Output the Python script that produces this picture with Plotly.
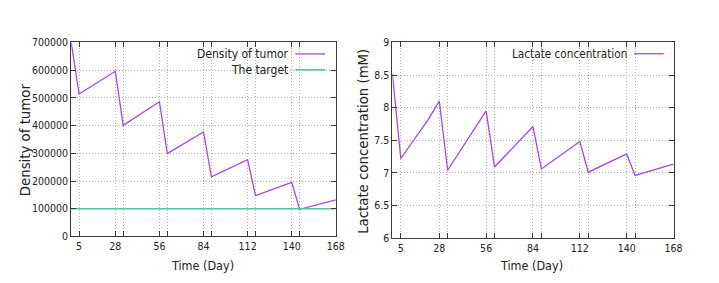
import plotly.graph_objects as go
from plotly.subplots import make_subplots

# ---- data ----
days_tumor = [0, 5, 28, 33, 56, 61, 84, 89, 112, 117, 140, 145, 168]
tumor_density = [700000, 514000, 596000, 401000, 486000, 299000, 377000,
                 215000, 277000, 147000, 195000, 98000, 132000]
target_days = [0, 168]
target_density = [100000, 100000]

days_lactate = [0, 5, 14, 21, 28, 33, 56, 61, 84, 89, 112, 117, 140, 145, 168]
lactate_conc = [8.52, 7.22, 7.55, 7.8, 8.10, 7.04, 7.95, 7.09, 7.71, 7.06,
                7.48, 7.01, 7.29, 6.96, 7.135]

x_tickvals = [5, 28, 33, 56, 61, 84, 89, 112, 117, 140, 145, 168]
x_ticktext = ["5", "28", "", "56", "", "84", "", "112", "", "140", "", "168"]
y1_tickvals = [0, 100000, 200000, 300000, 400000, 500000, 600000, 700000]
y2_tickvals = [6, 6.5, 7, 7.5, 8, 8.5, 9]
y2_ticktext = ["6", "6.5", "7", "7.5", "8", "8.5", "9"]

PURPLE = "#a04ae6"
GREEN = "#4fc79c"
FRAME = "#3a3a3a"
GRID = "#b0b0b0"
FONT = "DejaVu Sans Condensed, Liberation Sans Narrow, DejaVu Sans, sans-serif"

fig = make_subplots(rows=1, cols=2)

fig.add_trace(go.Scatter(x=days_tumor, y=tumor_density, mode="lines",
                         line=dict(color=PURPLE, width=1.3),
                         name="Density of tumor", showlegend=False), row=1, col=1)
fig.add_trace(go.Scatter(x=target_days, y=target_density, mode="lines",
                         line=dict(color=GREEN, width=1.6),
                         name="The target", showlegend=False), row=1, col=1)
fig.add_trace(go.Scatter(x=days_lactate, y=lactate_conc, mode="lines",
                         line=dict(color=PURPLE, width=1.3),
                         name="Lactate concentration", showlegend=False), row=1, col=2)

W, H = 719, 283
def px_x(p):
    return p / W
def px_y(p):
    return 1 - p / H

common_axis = dict(showline=True, linecolor=FRAME, linewidth=1, mirror="ticks",
                   ticks="inside", ticklen=5, tickcolor=FRAME, tickwidth=1,
                   showgrid=True, gridcolor=GRID, griddash="1px,2px", gridwidth=1,
                   zeroline=False, tickfont=dict(family=FONT, size=10.5, color="#222"))

fig.update_xaxes(**common_axis)
fig.update_yaxes(**common_axis)

fig.update_layout(
    xaxis=dict(domain=[px_x(64), px_x(332)], range=[0, 168],
               tickmode="array", tickvals=x_tickvals, ticktext=x_ticktext),
    yaxis=dict(domain=[px_y(232.3), px_y(29.7)], range=[0, 700000],
               tickmode="array", tickvals=y1_tickvals,
               ticktext=[str(v) for v in y1_tickvals]),
    xaxis2=dict(domain=[px_x(389.3), px_x(674)], range=[0, 168],
                tickmode="array", tickvals=x_tickvals, ticktext=x_ticktext),
    yaxis2=dict(domain=[px_y(234), px_y(29.7)], range=[6, 9],
                tickmode="array", tickvals=y2_tickvals, ticktext=y2_ticktext),
    width=W, height=H, margin=dict(l=0, r=0, t=0, b=0),
    paper_bgcolor="white", plot_bgcolor="white",
    font=dict(family=FONT, color="#222"),
)

# key boxes (white background hiding grid) and key samples, gnuplot style
shapes = [
    dict(type="rect", xref="paper", yref="paper", layer="between",
         x0=px_x(180), x1=px_x(331), y0=px_y(66), y1=px_y(30.5),
         fillcolor="white", line=dict(width=0)),
    dict(type="rect", xref="paper", yref="paper", layer="between",
         x0=px_x(516), x1=px_x(673), y0=px_y(50), y1=px_y(30.5),
         fillcolor="white", line=dict(width=0)),
    dict(type="line", xref="paper", yref="paper", x0=px_x(291), x1=px_x(321),
         y0=px_y(41.7), y1=px_y(41.7), line=dict(color=PURPLE, width=1.3)),
    dict(type="line", xref="paper", yref="paper", x0=px_x(291), x1=px_x(321),
         y0=px_y(58.3), y1=px_y(58.3), line=dict(color=GREEN, width=1.6)),
    dict(type="line", xref="paper", yref="paper", x0=px_x(634), x1=px_x(664),
         y0=px_y(41.5), y1=px_y(41.5), line=dict(color=PURPLE, width=1.3)),
]
fig.update_layout(shapes=shapes)

def ann(text, x, y, size, xanchor="center", angle=0):
    return dict(text=text, xref="paper", yref="paper", x=px_x(x), y=px_y(y),
                xanchor=xanchor, yanchor="middle", showarrow=False,
                textangle=angle, font=dict(family=FONT, size=size, color="#222"))

fig.update_layout(annotations=[
    ann("Density of tumor", 286, 42, 12, xanchor="right"),
    ann("The target", 286, 58.5, 12, xanchor="right"),
    ann("Lactate concentration", 629, 41.5, 11.7, xanchor="right"),
    ann("Time (Day)", 197, 262.5, 12.5),
    ann("Time (Day)", 530, 262.5, 12.5),
    ann("Density of tumor", 17, 131, 14.8, angle=-90),
    ann("Lactate concentration (mM)", 359, 133, 14.8, angle=-90),
])

fig.write_html("out.html")
